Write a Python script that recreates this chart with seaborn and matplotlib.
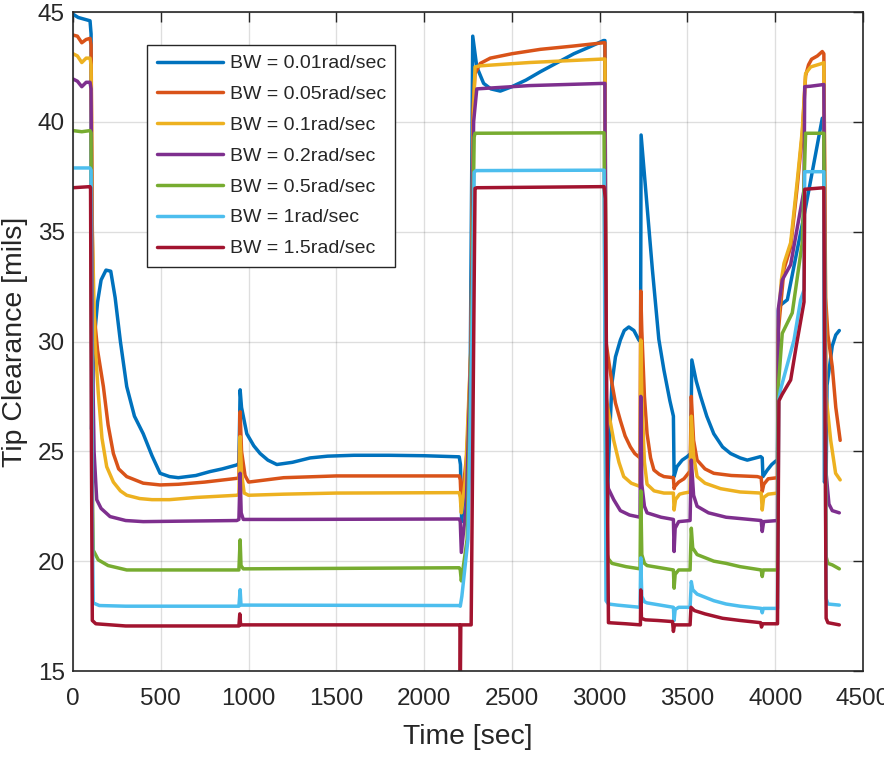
import matplotlib
matplotlib.use("Agg")
import matplotlib.pyplot as plt
from matplotlib.lines import Line2D
import seaborn as sns
import pandas as pd

labels = ["BW = 0.01rad/sec", "BW = 0.05rad/sec", "BW = 0.1rad/sec", "BW = 0.2rad/sec",
          "BW = 0.5rad/sec", "BW = 1rad/sec", "BW = 1.5rad/sec"]
colors = ["#0072BD", "#D95319", "#EDB120", "#7E2F8E", "#77AC30", "#4DBEEE", "#A2142F"]

# (time [sec], tip clearance [mils])
bw001 = [(0, 44.9), (30, 44.75), (97, 44.6), (103, 44.0), (106, 26.0), (114, 28.8), (121, 30.1), (140, 31.8),
         (160, 32.8), (188, 33.25), (215, 33.2), (240, 32.0), (270, 30.0), (306, 27.95), (350, 26.6), (400, 25.8),
         (450, 24.8), (496, 24.0), (550, 23.85), (600, 23.8), (700, 23.9), (781, 24.08), (850, 24.2),
         (933, 24.38), (945, 24.45), (952, 27.8), (960, 27.0), (990, 25.8), (1030, 25.25), (1066, 24.9),
         (1110, 24.6), (1161, 24.4), (1250, 24.5), (1351, 24.7), (1450, 24.78), (1600, 24.82), (1800, 24.82),
         (2000, 24.8), (2200, 24.75), (2207, 24.4), (2214, 21.8), (2240, 24.0), (2262, 28.0), (2277, 43.9),
         (2300, 42.5), (2339, 41.75), (2380, 41.5), (2434, 41.4), (2500, 41.6), (2580, 41.9), (2662, 42.28),
         (2760, 42.7), (2853, 43.1), (2940, 43.4), (3022, 43.7), (3030, 43.7), (3036, 30.0), (3039, 20.05),
         (3050, 24.5), (3070, 28.1), (3090, 29.3), (3118, 30.07), (3140, 30.5), (3166, 30.66), (3195, 30.5),
         (3223, 30.07), (3233, 30.0), (3236, 39.4), (3300, 33.3), (3337, 30.1), (3366, 28.7), (3400, 27.3),
         (3420, 26.6), (3424, 23.85), (3440, 24.3), (3470, 24.6), (3499, 24.76), (3518, 24.9), (3525, 29.16),
         (3550, 28.2), (3575, 27.5), (3610, 26.6), (3650, 25.8), (3700, 25.2), (3746, 24.9), (3800, 24.7),
         (3841, 24.6), (3917, 24.76), (3926, 24.7), (3930, 23.85), (3955, 24.15), (3980, 24.4), (4002, 24.55),
         (4013, 24.6), (4018, 31.4), (4021, 31.6), (4069, 31.9), (4173, 36.1), (4268, 40.16), (4277, 40.2),
         (4280, 23.6), (4290, 23.8), (4295, 28.0), (4325, 29.8), (4345, 30.3), (4365, 30.5)]

bw005 = [(0, 43.95), (25, 43.9), (50, 43.6), (75, 43.75), (97, 43.8), (103, 43.5), (110, 35.0), (116, 31.6),
         (140, 29.6), (173, 27.95), (200, 26.2), (230, 24.9), (260, 24.2), (306, 23.85), (400, 23.55),
         (496, 23.47), (600, 23.5), (750, 23.6), (933, 23.77), (945, 23.8), (952, 26.8), (960, 25.0),
         (980, 23.9), (1000, 23.6), (1200, 23.8), (1500, 23.88), (2200, 23.88), (2206, 23.7), (2212, 22.5),
         (2245, 25.0), (2268, 30.0), (2278, 40.5), (2290, 42.2), (2320, 42.66), (2377, 42.9), (2500, 43.1),
         (2662, 43.3), (2850, 43.45), (3022, 43.6), (3030, 43.6), (3036, 30.0), (3050, 29.2), (3070, 28.1),
         (3090, 27.2), (3118, 26.4), (3145, 25.7), (3175, 25.2), (3200, 24.9), (3230, 24.7), (3234, 32.3),
         (3240, 30.5), (3255, 27.5), (3270, 25.8), (3290, 24.7), (3309, 24.15), (3340, 23.95), (3366, 23.85),
         (3420, 23.8), (3424, 23.3), (3428, 23.4), (3450, 23.6), (3480, 23.75), (3515, 24.1), (3522, 27.5),
         (3535, 25.5), (3555, 24.6), (3600, 24.2), (3650, 24.0), (3750, 23.9), (3898, 23.85), (3920, 23.8),
         (3926, 23.17), (3935, 23.5), (3960, 23.75), (4013, 23.8), (4018, 30.5), (4040, 32.4), (4050, 33.3),
         (4088, 34.3), (4126, 37.1), (4154, 39.4), (4173, 42.1), (4190, 42.6), (4207, 42.85), (4240, 43.0),
         (4268, 43.2), (4277, 43.1), (4287, 32.0), (4300, 30.3), (4325, 28.85), (4345, 27.0), (4370, 25.5)]

bw01 = [(0, 43.1), (25, 43.0), (50, 42.7), (75, 42.9), (97, 42.9), (103, 42.6), (110, 35.0), (125, 30.0),
        (144, 27.65), (165, 25.6), (192, 24.3), (230, 23.6), (270, 23.2), (306, 23.0), (380, 22.85), (450, 22.8),
        (550, 22.8), (700, 22.9), (933, 23.0), (945, 23.05), (952, 25.67), (960, 24.0), (975, 23.1), (1000, 23.0),
        (1200, 23.05), (1500, 23.1), (2200, 23.12), (2206, 22.9), (2212, 22.2), (2235, 23.7), (2268, 30.0),
        (2280, 40.0), (2290, 42.5), (2320, 42.55), (2600, 42.7), (3022, 42.86), (3030, 42.86), (3036, 27.5),
        (3050, 26.8), (3080, 25.5), (3110, 24.5), (3137, 23.85), (3180, 23.55), (3230, 23.4), (3234, 30.07),
        (3240, 27.5), (3255, 24.5), (3270, 23.5), (3310, 23.2), (3366, 23.1), (3420, 23.1), (3424, 22.33),
        (3432, 22.8), (3455, 23.05), (3480, 23.1), (3515, 23.15), (3522, 26.6), (3535, 24.8), (3555, 23.85),
        (3600, 23.55), (3689, 23.3), (3800, 23.15), (3920, 23.1), (3926, 22.33), (3934, 22.9), (3960, 23.05),
        (4013, 23.1), (4018, 31.0), (4035, 32.8), (4050, 33.56), (4088, 34.5), (4126, 37.35), (4154, 39.6),
        (4173, 42.2), (4202, 42.5), (4268, 42.66), (4277, 42.7), (4290, 27.5), (4316, 25.5), (4344, 24.0),
        (4370, 23.7)]

bw02 = [(0, 41.95), (25, 41.85), (50, 41.6), (75, 41.8), (97, 41.8), (103, 41.5), (110, 30.0), (120, 25.0),
        (135, 22.8), (160, 22.4), (211, 22.03), (300, 21.85), (400, 21.8), (600, 21.82), (933, 21.85),
        (945, 21.9), (952, 24.0), (958, 22.2), (970, 21.9), (1200, 21.9), (2200, 21.92), (2206, 21.8),
        (2212, 20.4), (2240, 22.5), (2268, 30.0), (2282, 40.0), (2300, 41.5), (2600, 41.65), (3022, 41.75),
        (3030, 41.75), (3036, 24.0), (3050, 23.3), (3080, 22.8), (3118, 22.3), (3170, 22.1), (3230, 22.0),
        (3234, 27.5), (3240, 23.5), (3255, 22.5), (3270, 22.2), (3350, 22.0), (3420, 21.9), (3424, 20.44),
        (3430, 21.5), (3450, 21.8), (3515, 21.85), (3522, 24.6), (3535, 23.0), (3555, 22.5), (3620, 22.2),
        (3720, 22.0), (3920, 21.85), (3926, 21.35), (3934, 21.8), (4013, 21.85), (4018, 31.5), (4040, 32.8),
        (4088, 33.5), (4164, 36.9), (4168, 41.6), (4200, 41.62), (4277, 41.7), (4290, 24.0), (4306, 22.6),
        (4325, 22.3), (4365, 22.2)]

bw05 = [(0, 39.6), (50, 39.55), (97, 39.6), (103, 39.5), (108, 25.0), (115, 20.5), (144, 20.06), (200, 19.8),
        (306, 19.6), (600, 19.6), (945, 19.6), (952, 20.97), (957, 19.8), (970, 19.65), (2200, 19.7),
        (2206, 19.6), (2212, 19.1), (2245, 21.0), (2270, 30.0), (2285, 39.3), (2290, 39.48), (3025, 39.5),
        (3036, 20.5), (3050, 20.1), (3070, 19.9), (3150, 19.75), (3230, 19.65), (3234, 23.2), (3240, 20.3),
        (3255, 19.9), (3270, 19.8), (3420, 19.6), (3424, 18.77), (3430, 19.4), (3450, 19.6), (3515, 19.6),
        (3522, 21.5), (3530, 20.6), (3555, 20.3), (3650, 20.0), (3720, 19.9), (3800, 19.75), (3920, 19.6),
        (3926, 19.3), (3932, 19.6), (4013, 19.6), (4018, 28.0), (4040, 30.37), (4097, 31.3), (4154, 34.5),
        (4173, 39.48), (4277, 39.48), (4290, 20.2), (4300, 19.9), (4325, 19.83), (4365, 19.65)]

bw1 = [(0, 37.9), (97, 37.9), (103, 37.8), (110, 22.0), (115, 18.1), (150, 17.98), (300, 17.95), (945, 17.95),
       (952, 18.7), (957, 18.0), (2200, 17.98), (2206, 17.95), (2215, 18.4), (2250, 21.0), (2272, 30.0),
       (2285, 37.7), (2295, 37.78), (3025, 37.8), (3036, 18.2), (3050, 18.05), (3100, 18.0), (3230, 17.9),
       (3234, 20.15), (3240, 18.4), (3255, 18.15), (3270, 18.1), (3420, 17.9), (3424, 17.3), (3430, 17.8),
       (3450, 17.9), (3515, 17.9), (3522, 19.07), (3530, 18.7), (3555, 18.5), (3650, 18.2), (3720, 18.05),
       (3800, 17.95), (3920, 17.85), (3926, 17.65), (3932, 17.85), (4013, 17.85), (4020, 27.3), (4030, 27.8),
       (4107, 30.07), (4145, 31.9), (4164, 32.35), (4168, 37.73), (4277, 37.73), (4290, 18.3), (4300, 18.05),
       (4365, 18.0)]

bw15 = [(0, 37.0), (97, 37.05), (100, 37.0), (105, 25.0), (110, 17.3), (130, 17.15), (300, 17.05), (945, 17.05),
        (950, 17.6), (955, 17.1), (2200, 17.1), (2204, 17.05), (2206, 14.0), (2209, 17.1), (2268, 17.1),
        (2290, 36.97), (2300, 37.0), (3025, 37.05), (3032, 36.5), (3050, 17.2), (3150, 17.15), (3232, 17.1),
        (3234, 18.69), (3238, 17.4), (3260, 17.33), (3330, 17.3), (3415, 17.25), (3420, 16.8), (3426, 17.1),
        (3515, 17.1), (3520, 17.9), (3540, 17.75), (3600, 17.6), (3700, 17.4), (3800, 17.3), (3917, 17.2),
        (3922, 17.0), (3928, 17.15), (4013, 17.15), (4021, 27.3), (4040, 27.6), (4088, 28.25), (4120, 29.8),
        (4164, 31.8), (4168, 36.93), (4277, 37.0), (4290, 17.4), (4300, 17.2), (4365, 17.1)]

series = [bw001, bw005, bw01, bw02, bw05, bw1, bw15]

xticks = [0, 500, 1000, 1500, 2000, 2500, 3000, 3500, 4000, 4500]
yticks = [15, 20, 25, 30, 35, 40, 45]

sns.set_theme(style="white")
plt.rcParams['font.family'] = ['Liberation Sans', 'DejaVu Sans']
txt = "#262626"

fig = plt.figure(figsize=(8.84, 7.58), dpi=100)
ax = fig.add_axes([73 / 884, 1 - 671 / 758, (863 - 73) / 884, (671 - 12) / 758])

frames = []
for lab, pts in zip(labels, series):
    frames.append(pd.DataFrame({"t": [p[0] for p in pts], "y": [p[1] for p in pts], "s": lab}))
df = pd.concat(frames, ignore_index=True)

sns.lineplot(data=df, x="t", y="y", hue="s", hue_order=labels, palette=colors, sort=False,
             estimator=None, linewidth=2.5, ax=ax, legend=False)
for ln in ax.lines:
    ln.set_solid_joinstyle("round")
    ln.set_solid_capstyle("round")

ax.set_xlim(0, 4500)
ax.set_ylim(15, 45)
ax.set_xticks(xticks)
ax.set_yticks(yticks)
ax.grid(True, color=txt, alpha=0.15, linewidth=1.0)
ax.set_axisbelow(True)
for sp in ax.spines.values():
    sp.set_color(txt)
    sp.set_linewidth(1.2)
ax.tick_params(direction="in", top=True, right=True, length=7, width=1.0, color=txt,
               labelsize=17.5, labelcolor=txt, pad=6)
ax.tick_params(axis="x", pad=12)
ax.set_xlabel("Time [sec]", fontsize=20.3, color=txt, labelpad=10)
ax.set_ylabel("Tip Clearance [mils]", fontsize=20.5, color=txt, labelpad=7)

handles = [Line2D([0], [0], color=c, lw=2.5) for c in colors]
leg = ax.legend(handles, labels, loc="upper left", bbox_to_anchor=((147 - 73) / 790, 1 - (45 - 12) / 659),
                borderaxespad=0, fontsize=14, frameon=True, fancybox=False, framealpha=1,
                edgecolor=txt, handlelength=3.4, handletextpad=0.35, labelspacing=0.68, borderpad=0.5)
leg.get_frame().set_linewidth(1.0)
for t in leg.get_texts():
    t.set_color(txt)

fig.savefig("out.png", dpi=100)
